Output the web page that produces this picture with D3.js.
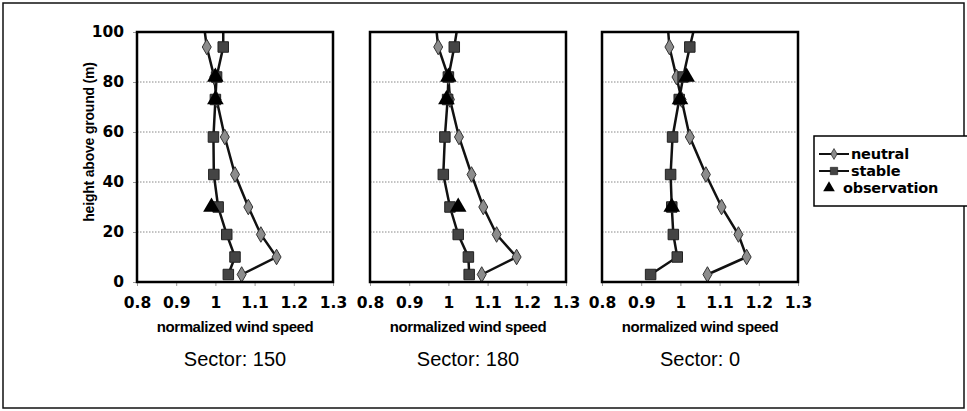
<!DOCTYPE html>
<html>
<head>
<meta charset="utf-8">
<script src="https://cdn.jsdelivr.net/npm/d3@7"></script>
<style>
  html, body { margin: 0; padding: 0; background: #fff; }
  svg { display: block; }
</style>
</head>
<body>
<svg id="chart" width="967" height="411"></svg>
<script>
// ---------------- data ----------------
const sectors = ["Sector: 150", "Sector: 180", "Sector: 0"];
const heights = [3, 10, 19, 30, 43, 58, 73, 82, 94, 100];

const neutral150 = [1.067, 1.156, 1.116, 1.084, 1.050, 1.024, 1.003, 0.997, 0.978, 0.973];
const stable150  = [1.033, 1.050, 1.029, 1.007, 0.996, 0.995, 1.000, 1.003, 1.020, 1.020];
const neutral180 = [1.085, 1.174, 1.123, 1.089, 1.059, 1.027, 1.004, 1.000, 0.974, 0.970];
const stable180  = [1.053, 1.051, 1.025, 1.004, 0.987, 0.991, 0.998, 1.000, 1.015, 1.021];
const neutral0   = [1.069, 1.169, 1.148, 1.105, 1.065, 1.024, 1.003, 0.990, 0.972, 0.969];
const stable0    = [0.924, 0.992, 0.982, 0.978, 0.975, 0.980, 0.997, 1.007, 1.024, 1.033];

const obsHeights = [30, 73, 82];
const obs150 = [0.990, 1.000, 1.000];
const obs180 = [1.025, 0.995, 1.000];
const obs0   = [0.978, 0.999, 1.016];

const xTicks = [0.8, 0.9, 1, 1.1, 1.2, 1.3];
const yTicks = [0, 20, 40, 60, 80, 100];
const xTitle = "normalized wind speed";
const yTitle = "height above ground (m)";
const legendLabels = ["neutral", "stable", "observation"];

const panels = [
  { name: sectors[0], neutral: neutral150, stable: stable150, obs: obs150 },
  { name: sectors[1], neutral: neutral180, stable: stable180, obs: obs180 },
  { name: sectors[2], neutral: neutral0,   stable: stable0,   obs: obs0 }
];

// ---------------- layout ----------------
const svg = d3.select("#chart");
const boldFont = "Arial, 'Liberation Sans', sans-serif";
const heavyFont = "'DejaVu Sans', Verdana, sans-serif";
const panelLeft = [137, 370, 602];
const panelW = 196, plotTop = 32, plotBottom = 282;

svg.append("rect").attr("x", 3).attr("y", 3).attr("width", 961).attr("height", 405)
  .attr("fill", "none").attr("stroke", "#111").attr("stroke-width", 1.5);

const y = d3.scaleLinear().domain([0, 100]).range([plotBottom, plotTop]);

const diamond = d3.symbol().type(d3.symbolDiamond).size(70);
const square = d3.symbol().type(d3.symbolSquare).size(110);
const triangle = d3.symbol().type(d3.symbolTriangle).size(120);

svg.append("defs").selectAll("clipPath").data(panels).join("clipPath")
  .attr("id", (d, i) => "clip" + i)
  .append("rect").attr("x", (d, i) => panelLeft[i]).attr("y", plotTop)
  .attr("width", panelW).attr("height", plotBottom - plotTop);

panels.forEach((p, i) => {
  const x = d3.scaleLinear().domain([0.8, 1.3]).range([panelLeft[i], panelLeft[i] + panelW]);
  const g = svg.append("g");

  // grid
  g.selectAll("line.grid").data(yTicks.filter(t => t > 0 && t < 100)).join("line")
    .attr("x1", x.range()[0]).attr("x2", x.range()[1])
    .attr("y1", d => y(d)).attr("y2", d => y(d))
    .attr("stroke", "#888").attr("stroke-width", 1).attr("stroke-dasharray", "1.5,1.5");

  // x axis
  const xa = g.append("g").attr("transform", `translate(0,${plotBottom})`)
    .call(d3.axisBottom(x).tickValues(xTicks).tickFormat(d3.format("~g")).tickSize(4).tickPadding(11));
  xa.select(".domain").remove();
  xa.selectAll("line").attr("stroke", "#999");
  xa.selectAll("text").attr("font-family", heavyFont).attr("font-weight", "bold")
    .attr("font-size", 15.5).attr("fill", "#000");

  // y axis for first panel
  if (i === 0) {
    const ya = g.append("g").attr("transform", `translate(${x.range()[0]},0)`)
      .call(d3.axisLeft(y).tickValues(yTicks).tickSize(4).tickPadding(9));
    ya.select(".domain").remove();
    ya.selectAll("line").attr("stroke", "#999");
    ya.selectAll("text").attr("font-family", heavyFont).attr("font-weight", "bold")
      .attr("font-size", 15.5).attr("fill", "#000");
  }

  // lines
  const line = d3.line().x(d => x(d[0])).y(d => y(d[1]));
  const plot = g.append("g").attr("clip-path", `url(#clip${i})`);
  const nPts = p.neutral.map((v, k) => [v, heights[k]]);
  const sPts = p.stable.map((v, k) => [v, heights[k]]);
  plot.append("path").attr("d", line(nPts)).attr("fill", "none")
    .attr("stroke", "#111").attr("stroke-width", 2.5);
  plot.append("path").attr("d", line(sPts)).attr("fill", "none")
    .attr("stroke", "#111").attr("stroke-width", 2.5);

  plot.selectAll("path.d").data(nPts.filter(d => d[1] < 100)).join("path")
    .attr("transform", d => `translate(${x(d[0])},${y(d[1])})`)
    .attr("d", diamond).attr("fill", "#8c8c8c").attr("stroke", "#333").attr("stroke-width", 1);
  plot.selectAll("path.s").data(sPts.filter(d => d[1] < 100)).join("path")
    .attr("transform", d => `translate(${x(d[0])},${y(d[1])})`)
    .attr("d", square).attr("fill", "#444").attr("stroke", "#222").attr("stroke-width", 1);
  plot.selectAll("path.t").data(p.obs.map((v, k) => [v, obsHeights[k]])).join("path")
    .attr("transform", d => `translate(${x(d[0])},${y(d[1])})`)
    .attr("d", triangle).attr("fill", "#000");

  // frame
  g.append("rect").attr("x", x.range()[0]).attr("y", plotTop)
    .attr("width", panelW).attr("height", plotBottom - plotTop)
    .attr("fill", "none").attr("stroke", "#000").attr("stroke-width", 2.5);

  // titles
  const cx = x.range()[0] + panelW / 2;
  g.append("text").attr("x", cx).attr("y", 332).attr("text-anchor", "middle")
    .attr("font-family", boldFont).attr("font-weight", "bold").attr("font-size", 15)
    .attr("letter-spacing", "-0.4").text(xTitle);
  g.append("text").attr("x", cx).attr("y", 366).attr("text-anchor", "middle")
    .attr("font-family", boldFont).attr("font-size", 20)
    .text(p.name);
});

// y title
svg.append("text").attr("transform", "translate(94,142) rotate(-90)")
  .attr("text-anchor", "middle").attr("font-family", boldFont).attr("font-weight", "bold")
  .attr("font-size", 14).attr("letter-spacing", "-0.2").text(yTitle);

// legend
const lg = svg.append("g");
lg.append("rect").attr("x", 814).attr("y", 136).attr("width", 160).attr("height", 70)
  .attr("fill", "#fff").attr("stroke", "#000").attr("stroke-width", 1.5);
const ly = d3.scalePoint().domain(legendLabels).range([154, 188]);
const markers = { neutral: [diamond, "#8c8c8c"], stable: [square, "#444"], observation: [triangle, "#000"] };
legendLabels.forEach(name => {
  const yy = ly(name);
  const isObs = name === "observation";
  if (!isObs) {
    lg.append("line").attr("x1", 819).attr("x2", 849).attr("y1", yy).attr("y2", yy)
      .attr("stroke", "#111").attr("stroke-width", 2);
  }
  lg.append("path").attr("transform", `translate(${isObs ? 829 : 834},${yy}) scale(0.7)`)
    .attr("d", markers[name][0]).attr("fill", markers[name][1]).attr("stroke", isObs ? "none" : "#222");
  lg.append("text").attr("x", isObs ? 843 : 851).attr("y", yy).attr("dy", "0.35em")
    .attr("font-family", heavyFont).attr("font-weight", "bold").attr("font-size", 14.5)
    .attr("letter-spacing", "-0.2").text(name);
});
</script>
</body>
</html>
